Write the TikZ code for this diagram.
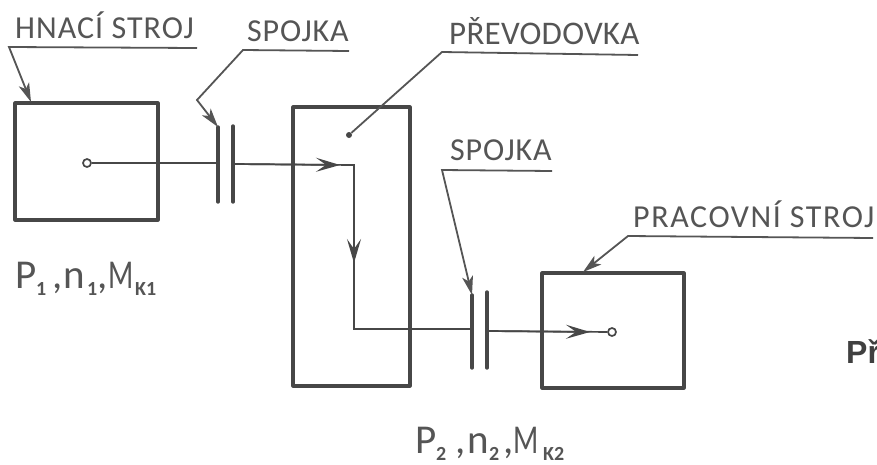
\documentclass[tikz,border=0pt]{standalone}
\usepackage{fontspec}
\setmainfont{Carlito}
\newfontfamily\boldlabel{Liberation Sans}
\usetikzlibrary{arrows.meta}
\definecolor{ink}{HTML}{474747}
\definecolor{soft}{HTML}{555555}
\newcommand\glyphat[2]{\makebox[#1pt][l]{#2}}
\newcommand\smallsub[1]{\raisebox{-7pt}{\fontsize{20}{20}\selectfont\bfseries #1}}
\newcommand\thinM{\scalebox{.72}[1]{M}}
\tikzset{
  x=1pt,y=-1pt,
  machine/.style={draw=ink,line width=3.1pt,line join=round},
  clutchbar/.style={draw=ink,line width=3.4pt,line cap=round},
  shaft/.style={draw=ink,line width=1.7pt},
  leader/.style={draw=soft,line width=1.8pt},
  pointer/.style={-{Stealth[length=19pt,width=11pt,inset=5pt]}},
  flow/.style={-{Stealth[length=24pt,width=14pt,inset=10pt]}},
  lab/.style={inner sep=0pt,anchor=base west,text=soft,font=\fontsize{32}{32}\selectfont},
  sym/.style={inner sep=0pt,anchor=base west,text=soft,font=\fontsize{41}{41}\selectfont},
  port/.style={circle,draw=ink,line width=1.7pt,fill=white,minimum size=8pt,inner sep=0pt},
  pin/.style={circle,fill=ink,minimum size=6pt,inner sep=0pt}
}
\begin{document}
\begin{tikzpicture}
\useasboundingbox (0,0) rectangle (877,464);
\fill[white] (0,0) rectangle (877,464);
% machines
\draw[machine] (15,103) rectangle (158,220);
\draw[machine] (293,107) rectangle (410,386);
\draw[machine] (542,273) rectangle (684,388);
\coordinate (box1top) at (31,102);
\coordinate (box3top) at (583,272);
% clutches
\coordinate (c1a) at (218,127); \coordinate (c1b) at (218,202);
\coordinate (c2a) at (233,126); \coordinate (c2b) at (233,202);
\coordinate (c3a) at (472,295); \coordinate (c3b) at (472,368);
\coordinate (c4a) at (487,292); \coordinate (c4b) at (487,368);
\draw[clutchbar] (c1a) -- (c1b);
\draw[clutchbar] (c2a) -- (c2b);
\draw[clutchbar] (c3a) -- (c3b);
\draw[clutchbar] (c4a) -- (c4b);
% shafts
\coordinate (s1) at (218,163);
\coordinate (s2) at (233,164);
\coordinate (bend1) at (354,165);
\coordinate (bend2) at (354,329);
\coordinate (s3) at (472,329);
\coordinate (s4) at (487,331);
\coordinate (a1) at (340,165);
\coordinate (a2) at (354,263);
\coordinate (a3) at (590,332);
\node[port] (pout) at (612,332) {};
\node[port] (pin1) at (87,163) {};
\node[pin] (pdot) at (349,135) {};
\draw[shaft] (pin1) -- (s1);
\draw[shaft] (s2) -- (bend1) -- (bend2) -- (s3);
\draw[shaft] (s4) -- (pout);
\draw[shaft,flow] (s2) -- (a1);
\draw[shaft,flow] (bend1) -- (a2);
\draw[shaft,flow] (s4) -- (a3);
% labels
\node[lab,font=\fontsize{32}{32}\selectfont\addfontfeature{LetterSpace=3.2}] (t1) at (15,38) {HNACÍ STROJ};
\node[lab,font=\fontsize{32}{32}\selectfont\addfontfeature{LetterSpace=2.5}] (t2) at (247,41) {SPOJKA};
\node[lab,font=\fontsize{33}{33}\selectfont\addfontfeature{LetterSpace=0.8}] (t3) at (449,44) {PŘEVODOVKA};
\node[lab,font=\fontsize{32}{32}\selectfont\addfontfeature{LetterSpace=2.5}] (t4) at (450,160) {SPOJKA};
\node[lab,font=\fontsize{32}{32}\selectfont\addfontfeature{LetterSpace=5}] (t5) at (633,227) {PRACOVNÍ STROJ};
\node[sym] (f1) at (15,288) {\glyphat{21}{P}\glyphat{16}{\smallsub{1}}\glyphat{11}{,}\glyphat{24}{n}\glyphat{10}{\smallsub{1}}\glyphat{11}{,}\glyphat{27}{\thinM}\smallsub{K1}};
\node[sym] (f2) at (415,453) {\glyphat{21}{P}\glyphat{19}{\smallsub{2}}\glyphat{12}{,}\glyphat{22}{n}\glyphat{14}{\smallsub{2}}\glyphat{10}{,}\glyphat{30}{\thinM}\smallsub{K2}};
\node[inner sep=0pt,anchor=base west,text=black!75,font=\boldlabel\bfseries\fontsize{32}{32}\selectfont] (t6) at (846,363) {Př};
% leaders
\coordinate (u1r) at (197,48); \coordinate (u1l) at (9,47);
\coordinate (u2r) at (349,51); \coordinate (u2l) at (243,50); \coordinate (k2) at (197,100);
\coordinate (u3r) at (638,55); \coordinate (u3l) at (442,52);
\coordinate (u4r) at (552,171); \coordinate (u4l) at (442,170);
\coordinate (u5r) at (873,238); \coordinate (u5l) at (628,236);
\draw[leader,pointer] (u1r) -- (u1l) -- (box1top);
\draw[leader,pointer] (u2r) -- (u2l) -- (k2) -- (c1a);
\draw[leader] (u3r) -- (u3l) -- (pdot);
\draw[leader,pointer] (u4r) -- (u4l) -- (c3a);
\draw[leader,pointer] (u5r) -- (u5l) -- (box3top);
\end{tikzpicture}
\end{document}
